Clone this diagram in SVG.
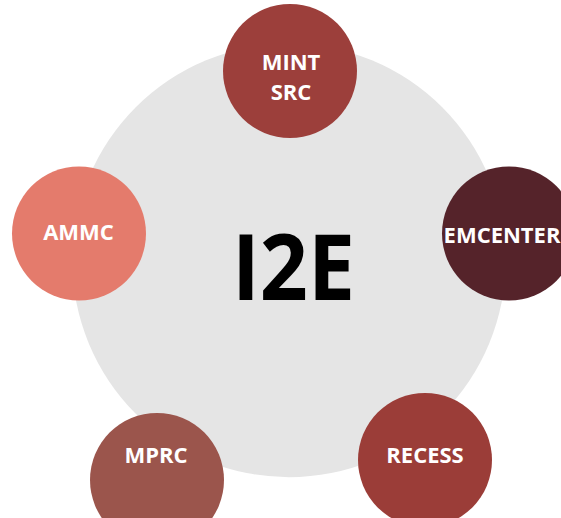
<svg xmlns="http://www.w3.org/2000/svg" width="561" height="518" viewBox="0 0 561 518">
<style>
.lbl{font-family:"Open Sans","Liberation Sans",sans-serif;font-weight:700;font-size:22px;fill:#ffffff;text-anchor:middle}
.hub{font-family:"Open Sans","Liberation Sans",sans-serif;font-weight:700;font-size:91px;fill:#000000;text-anchor:middle}
</style>
<rect x="0" y="0" width="561" height="518" fill="#ffffff"/>
<g id="connectors"></g>
<g id="hub">
<circle cx="289" cy="260.5" r="216.7" fill="#e5e5e5"/>
<text class="hub" x="293.5" y="300" textLength="123" lengthAdjust="spacingAndGlyphs">I2E</text>
</g>
<g id="mint-src">
<circle cx="290" cy="71" r="67" fill="#9c3f3b"/>
<text class="lbl" x="291" y="70">MINT</text>
<text class="lbl" x="291" y="100">SRC</text>
</g>
<g id="emcenter">
<circle cx="509" cy="233.5" r="67" fill="#55232a"/>
<text class="lbl" x="502" y="243">EMCENTER</text>
</g>
<g id="ammc">
<circle cx="79" cy="233.5" r="67" fill="#e47b6c"/>
<text class="lbl" x="78.5" y="240">AMMC</text>
</g>
<g id="mprc">
<circle cx="157" cy="480" r="67" fill="#9b554c"/>
<text class="lbl" x="156" y="463">MPRC</text>
</g>
<g id="recess">
<circle cx="425" cy="460" r="67" fill="#9b3d38"/>
<text class="lbl" x="425" y="463">RECESS</text>
</g>
</svg>
